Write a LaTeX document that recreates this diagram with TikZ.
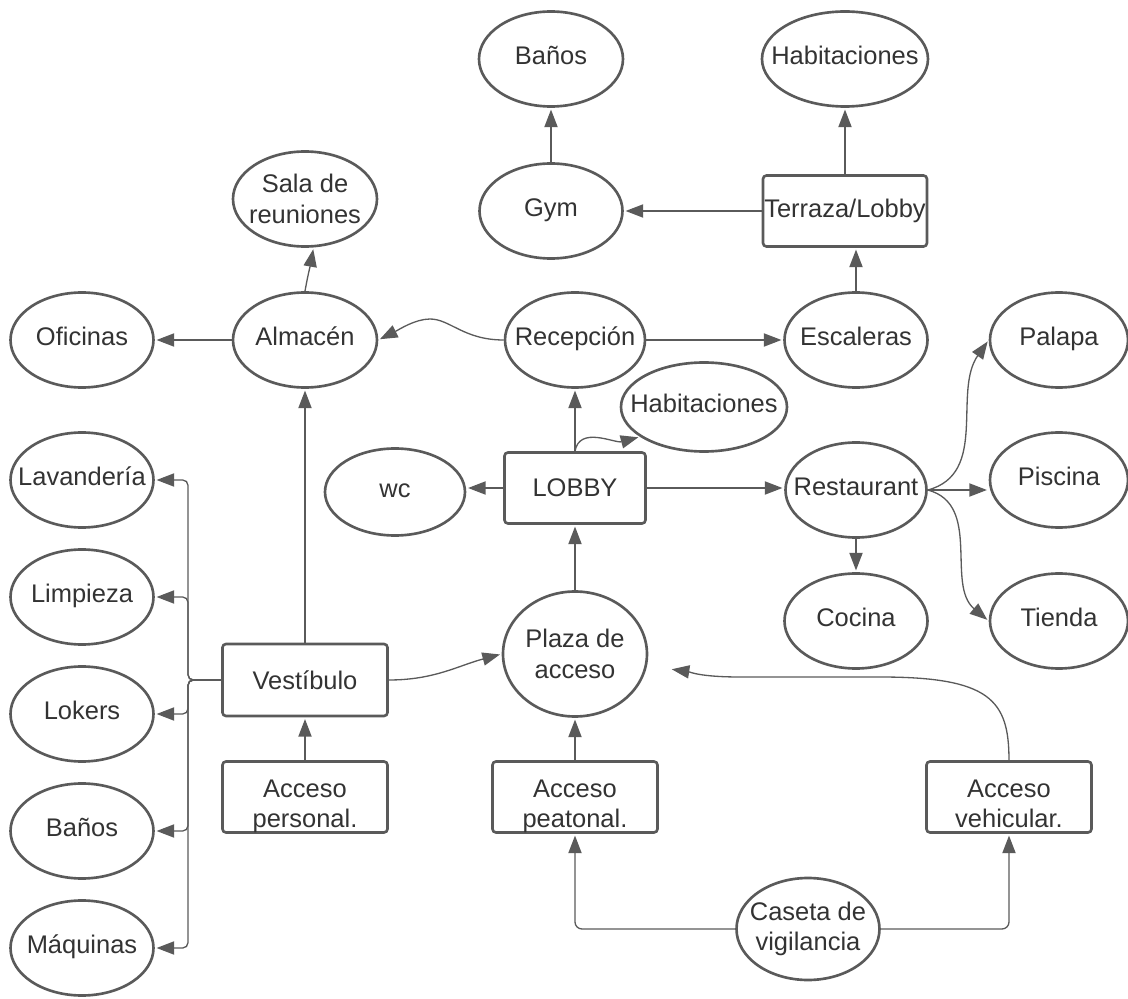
\documentclass[tikz,border=0pt]{standalone}
\usepackage{fontspec}
\setmainfont{Liberation Sans}
\usetikzlibrary{shapes.geometric,arrows.meta}
\definecolor{linegray}{HTML}{5A5A5A}
\definecolor{textgray}{HTML}{333333}
% two lines of text, the first one on the middle of the box
\newcommand{\lowtext}[2]{\raisebox{0pt}[0pt][0pt]{\begin{tabular}[t]{@{}c@{}}#1\\#2\end{tabular}}}

\begin{document}
\begin{tikzpicture}[
  >={Triangle[length=10pt,width=7.5pt]},
  every node/.style={font=\fontsize{14.5}{17.5}\selectfont, text=textgray},
  room/.style={ellipse, draw=linegray, line width=1.5pt, minimum width=2.86cm,
    minimum height=1.9cm, inner xsep=-0.6cm, inner ysep=0pt, align=center,
    text height=0.85em, text depth=0.2em},
  pair/.style={text height={}, text depth={}},
  area/.style={rectangle, rounded corners=2pt, draw=linegray, line width=1.5pt,
    minimum width=3.3cm, minimum height=1.42cm, inner sep=0pt},
  link/.style={->, draw=linegray, line width=0.75pt, shorten >=1pt}]
  \useasboundingbox (0,0) rectangle (22.56,-19.98);

  % upper floor
  \node[room, minimum width=2.88cm] (banos1) at (11.02,-1.18) {Baños};
  \node[room, minimum width=3.32cm] (habs1) at (16.90,-1.18) {Habitaciones};
  \node[room] (gym) at (11.02,-4.22) {Gym};
  \node[area, minimum width=3.28cm] (terraza) at (16.90,-4.22) {Terraza/Lobby};
  \node[room, pair, minimum width=2.88cm] (sala) at (6.10,-3.98) {Sala de\\reuniones};

  % ground floor
  \node[room] (oficinas) at (1.64,-6.80) {Oficinas};
  \node[room, minimum width=2.88cm] (almacen) at (6.10,-6.80) {Almacén};
  \node[room, minimum width=2.8cm] (recepcion) at (11.50,-6.80) {Recepción};
  \node[room] (escaleras) at (17.12,-6.80) {Escaleras};
  \node[room, minimum width=2.76cm] (palapa) at (21.18,-6.80) {Palapa};
  \node[room, minimum width=3.32cm, minimum height=1.78cm] (habs2) at (14.08,-8.14) {Habitaciones};
  \node[room, minimum width=2.8cm, minimum height=1.74cm] (wc) at (7.90,-9.84) {wc};
  \node[area, minimum width=2.82cm] (lobby) at (11.50,-9.76) {LOBBY};
  \node[room, minimum width=2.82cm] (restaurant) at (17.12,-9.80) {Restaurant};
  \node[room, minimum width=2.76cm] (piscina) at (21.18,-9.60) {Piscina};
  \node[room] (cocina) at (17.12,-12.42) {Cocina};
  \node[room, minimum width=2.76cm] (tienda) at (21.18,-12.42) {Tienda};

  % service rooms
  \node[room] (lavanderia) at (1.64,-9.60) {Lavandería};
  \node[room] (limpieza) at (1.64,-11.94) {Limpieza};
  \node[room] (lokers) at (1.64,-14.28) {Lokers};
  \node[room] (banos2) at (1.64,-16.62) {Baños};
  \node[room] (maquinas) at (1.64,-18.96) {Máquinas};

  % accesses
  \node[room, pair, minimum width=2.88cm, minimum height=2.5cm] (plaza) at (11.50,-13.08) {Plaza de\\acceso};
  \node[area, minimum height=1.44cm] (vestibulo) at (6.10,-13.60) {Vestíbulo};
  \node[area] (apers) at (6.10,-15.94) {\lowtext{Acceso}{personal.}};
  \node[area] (apeat) at (11.50,-15.94) {\lowtext{Acceso}{peatonal.}};
  \node[area] (aveh) at (20.18,-15.94) {\lowtext{Acceso}{vehicular.}};
  \node[room, pair, minimum height=2.04cm] (caseta) at (16.16,-18.58) {Caseta de\\vigilancia};

  % Coordinates
  \coordinate (trunk) at (3.76,-13.60);
  \coordinate (plazain) at (13.40,-13.38);

  % connecting the units
  \draw[link] (gym) -- (banos1);
  \draw[link] (terraza) -- (habs1);
  \draw[link] (terraza) -- (gym);
  \draw[link] (escaleras.north) -- (escaleras.north |- terraza.south);
  \draw[link] (recepcion) -- (escaleras);
  \draw[link] (recepcion.west) .. controls +(-0.8,0) and +(0.4,0) .. (8.60,-6.38)
    .. controls +(-0.3,0) and +(0.4,0.2) .. (almacen.east);
  \draw[link] (almacen) -- (oficinas);
  \draw[link] (almacen.north) to[out=80,in=-100] (sala.-80);
  \draw[link] (lobby) -- (recepcion);
  \draw[link] (lobby.north) to[out=80,in=195] (habs2.205);
  \draw[link] (lobby.west) -- (lobby.west -| wc.east);
  \draw[link] (lobby.east) -- (lobby.east -| restaurant.west);
  \draw[link] (restaurant.east) to[out=15,in=235] (palapa.west);
  \draw[link] (restaurant.east) -- (restaurant.east -| piscina.west);
  \draw[link] (restaurant.east) to[out=-15,in=140] (tienda.west);
  \draw[link] (restaurant) -- (cocina);
  \draw[link] (plaza) -- (lobby);
  \draw[link] (vestibulo) -- (almacen);
  \draw[link] (vestibulo.east) to[out=0,in=195] (plaza.west);
  \draw[link] (apers) -- (vestibulo);
  \draw[link] (apeat) -- (plaza);
  \draw[link] (aveh.north) .. controls (20.18,-14.0) and (19.8,-13.54) .. (17.6,-13.54)
    -- (14.8,-13.54) .. controls (14.0,-13.54) and (13.8,-13.44) .. (plazain);
  \draw[link, rounded corners=4pt] (caseta.west) -| (apeat.south);
  \draw[link, rounded corners=4pt] (caseta.east) -| (aveh.south);
  \foreach \dest in {lavanderia,limpieza,lokers,banos2,maquinas}
    \draw[link, rounded corners=3pt] (vestibulo.west) -- (trunk) |- (\dest.east);

\end{tikzpicture}
\end{document}
